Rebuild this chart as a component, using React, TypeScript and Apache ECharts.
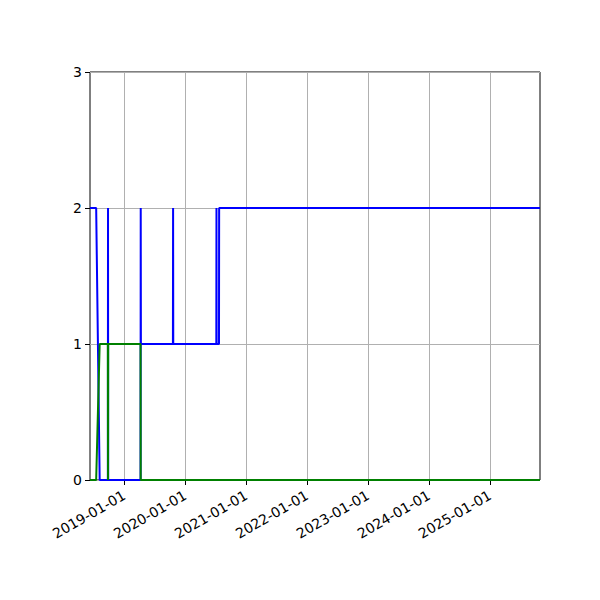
import React, { useEffect, useRef } from "react";
import * as echarts from "echarts";

const dates = [
  "2018-06-10", "2018-07-17", "2018-08-07", "2018-09-25", "2018-09-26", "2018-09-27",
  "2019-04-09", "2019-04-10", "2019-04-11", "2019-10-20", "2019-10-21", "2019-10-22",
  "2020-07-06", "2020-07-07", "2020-07-08", "2020-07-22", "2020-07-23", "2025-10-28",
];
const blueValues = [2, 2, 0, 0, 2, 0, 0, 2, 1, 1, 2, 1, 1, 2, 1, 1, 2, 2];
const greenValues = [0, 0, 1, 1, 0, 1, 1, 0, 0, 0, 0, 0, 0, 0, 0, 0, 0, 0];
const tickDates = ["2019-01-01", "2020-01-01", "2021-01-01", "2022-01-01", "2023-01-01", "2024-01-01", "2025-01-01"];
const yTicks = [0, 1, 2, 3];

const toTs = (s: string) => {
  const [y, m, d] = s.split("-").map(Number);
  return Date.UTC(y, m - 1, d);
};
const pad = (n: number) => (n < 10 ? "0" + n : "" + n);
const fmt = (v: number) => {
  const d = new Date(v);
  return `${d.getUTCFullYear()}-${pad(d.getUTCMonth() + 1)}-${pad(d.getUTCDate())}`;
};

export default function App() {
  const ref = useRef<HTMLDivElement>(null);
  useEffect(() => {
    if (!ref.current) return;
    const chart = echarts.init(ref.current, null, { renderer: "svg" });
    const ticks = tickDates.map(toTs);
    const font = "DejaVu Sans";
    chart.setOption({
      animation: false,
      backgroundColor: "#ffffff",
      grid: {
        left: 90,
        right: 60,
        top: 72,
        bottom: 120,
        show: true,
        borderColor: "#000000",
        borderWidth: 1,
        backgroundColor: "transparent",
      },
      xAxis: {
        type: "value",
        min: toTs(dates[0]),
        max: toTs(dates[dates.length - 1]),
        axisLine: { show: false, onZero: false },
        axisTick: { show: true, length: 5, lineStyle: { color: "#000" }, customValues: ticks },
        axisLabel: {
          customValues: ticks,
          formatter: (v: number) => fmt(v),
          rotate: 30,
          color: "#000",
          fontSize: 14,
          fontFamily: font,
          margin: 14,
          hideOverlap: false,
        },
        splitLine: { show: true, lineStyle: { color: "#b0b0b0", width: 1 } },
      },
      yAxis: {
        type: "value",
        min: yTicks[0],
        max: yTicks[yTicks.length - 1],
        interval: 1,
        axisLine: { show: false },
        axisTick: { show: true, length: 5, lineStyle: { color: "#000" } },
        axisLabel: { color: "#000", fontSize: 14, fontFamily: font, margin: 8 },
        splitLine: { show: true, lineStyle: { color: "#b0b0b0", width: 1 } },
      },
      series: [
        {
          type: "line",
          data: dates.map((d, i) => [toTs(d), blueValues[i]]),
          showSymbol: false,
          symbol: "none",
          lineStyle: { color: "#0000ff", width: 2 },
          itemStyle: { color: "#0000ff" },
          z: 3,
        },
        {
          type: "line",
          data: dates.map((d, i) => [toTs(d), greenValues[i]]),
          showSymbol: false,
          symbol: "none",
          lineStyle: { color: "#008000", width: 2 },
          itemStyle: { color: "#008000" },
          z: 4,
        },
      ],
    });
    return () => chart.dispose();
  }, []);
  return (
    <div
      ref={ref}
      style={{ position: "fixed", left: 0, top: 0, width: 600, height: 600, background: "#fff" }}
    />
  );
}
